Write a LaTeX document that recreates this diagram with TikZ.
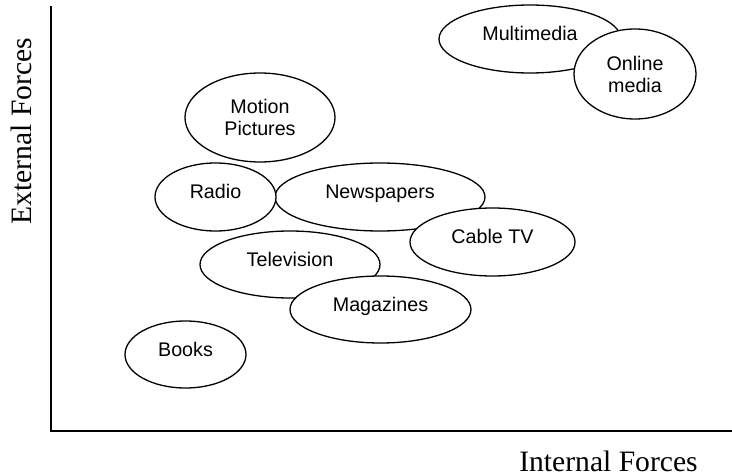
\documentclass[tikz,border=0pt]{standalone}
\usepackage{fontspec}
\setmainfont{Liberation Serif}
\newfontfamily\labelsans{Liberation Sans}
\usetikzlibrary{shapes.geometric}

\begin{document}
\begin{tikzpicture}[x=1pt,y=-1pt,
  medium/.style={ellipse, draw, line width=1.3pt, fill=white, inner sep=0pt,
                 font=\labelsans\fontsize{19.7}{22}\selectfont},
  oneline/.style={medium, text height=14pt, text depth=10pt},
  twoline/.style={medium, align=center},
  axis/.style={line width=2pt, line join=miter},
  axislabel/.style={font=\fontsize{29.6}{34}\selectfont, inner sep=0pt}]
\useasboundingbox (0,0) rectangle (732,476);

% axes
\coordinate (ytop) at (51,6);
\coordinate (origin) at (51,431);
\coordinate (xend) at (732,431);
\draw[axis] (ytop) -- (origin) -- (xend);

\node[axislabel, rotate=90, anchor=base] (ylabel) at (31,131) {External Forces};
\node[axislabel, anchor=base] (xlabel) at (608.5,471) {Internal Forces};

% media, drawn back to front where they overlap
\node[oneline, minimum width=182pt, minimum height=68pt] (multimedia) at (530,39) {Multimedia};
\node[twoline, minimum width=122pt, minimum height=90pt] (online) at (635,74) {Online\\media};
\node[twoline, minimum width=150pt, minimum height=89pt] (motion) at (260,117.5) {Motion\\Pictures};
\node[oneline, minimum width=210pt, minimum height=68pt] (newspapers) at (380,197) {Newspapers};
\node[oneline, minimum width=121pt, minimum height=68pt] (radio) at (215.5,197) {Radio};
\node[oneline, minimum width=165pt, minimum height=68pt] (cabletv) at (492.5,242) {Cable TV};
\node[oneline, minimum width=180pt, minimum height=67pt] (television) at (290,264.5) {Television};
\node[oneline, minimum width=181pt, minimum height=67pt] (magazines) at (380.5,309.5) {Magazines};
\node[oneline, minimum width=121pt, minimum height=67pt] (books) at (185.5,354.5) {Books};
\end{tikzpicture}
\end{document}
